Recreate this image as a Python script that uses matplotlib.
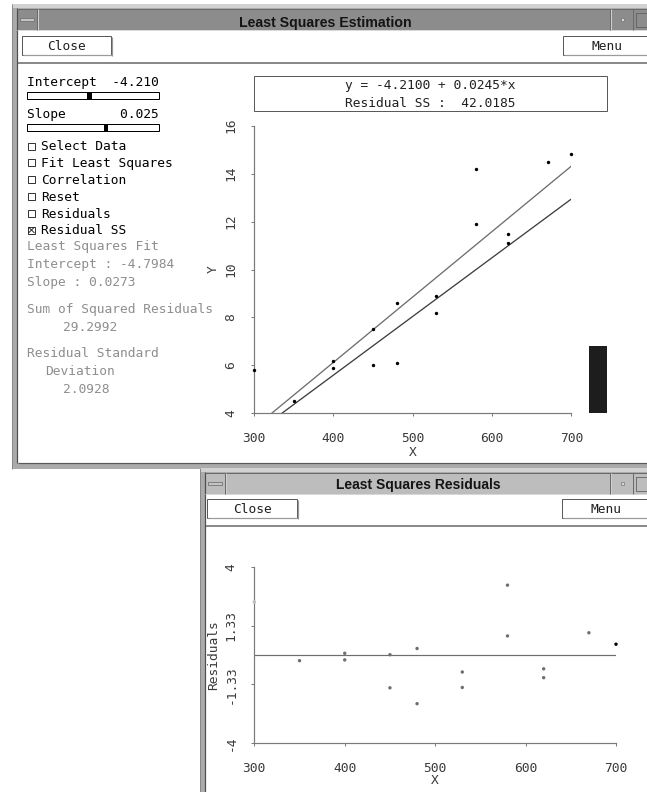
import numpy as np
import matplotlib
matplotlib.use("Agg")
import matplotlib.pyplot as plt
from matplotlib.patches import Rectangle

# ---- data -------------------------------------------------------------
x_vals = [300, 350, 400, 400, 450, 450, 480, 480, 530, 530, 580, 580, 620, 620, 670, 700]
y_vals = [5.8, 4.5, 6.2, 5.9, 7.5, 6.0, 8.6, 6.1, 8.9, 8.2, 14.2, 11.9, 11.5, 11.1, 14.5, 14.8]

user_intercept = -4.2100
user_slope = 0.0245
user_rss = 42.0185

ls_intercept = -4.7984
ls_slope = 0.0273
ls_rss = 29.2992
ls_sd = 2.0928

slider_intercept_label = "-4.210"
slider_slope_label = "0.025"

x_ticks = [300, 400, 500, 600, 700]
y_ticks = [4, 6, 8, 10, 12, 14, 16]
resid_ticks = [-4, -1.33, 1.33, 4]
resid_tick_labels = ["-4", "-1.33", "1.33", "4"]

options = ["Select Data", "Fit Least Squares", "Correlation", "Reset",
           "Residuals", "Residual SS"]
options_checked = [False, False, False, False, False, True]

# ---- figure set-up ----------------------------------------------------
plt.rcParams["font.family"] = ["DejaVu Sans Mono"]
plt.rcParams["axes.unicode_minus"] = False

W, H = 647, 792
fig = plt.figure(figsize=(W / 100, H / 100), dpi=100)
fig.patch.set_facecolor("white")

ui = fig.add_axes([0, 0, 1, 1])
ui.set_xlim(0, W)
ui.set_ylim(H, 0)
ui.axis("off")

PX = 0.72  # one pixel in points
MONO = 9.3
TITLE_FONT = ["Liberation Sans", "DejaVu Sans"]


def frac(x0, y0, x1, y1):
    return [x0 / W, 1 - y1 / H, (x1 - x0) / W, (y1 - y0) / H]


def box(x0, y0, x1, y1, fc="none", ec="none", lw=0.0, z=1):
    ui.add_patch(Rectangle((x0, y0), x1 - x0, y1 - y0, facecolor=fc,
                           edgecolor=ec, linewidth=lw, zorder=z))


def line(xs, ys, c, lw=1.0, z=2):
    ui.plot(xs, ys, color=c, lw=lw * PX, solid_capstyle="butt", zorder=z)


def label(x, y, s, color="black", ha="left", size=MONO, **kw):
    ui.text(x, y, s, color=color, ha=ha, va="baseline", fontsize=size,
            zorder=5, **kw)


def button(x0, y0, x1, y1, text):
    box(x0, y0, x1, y1, fc="white", ec="#5a5a5a", lw=1.0 * PX, z=3)
    line([x0 + 1, x1 + 1], [y1 + 0.8, y1 + 0.8], "#9a9a9a", 1.2, z=3)
    line([x1 + 0.8, x1 + 0.8], [y0 + 1, y1 + 1], "#9a9a9a", 1.2, z=3)
    label((x0 + x1) / 2, (y0 + y1) / 2 + 4.3, text, ha="center", color="#202020")


def window(x0, y0, y1, title, title_fc, title_cx, title_base, title_size):
    # frame
    box(x0, y0, W + 2, y1, fc="#ababab", z=1)
    box(x0, y0, W + 2, y0 + 4, fc="#d2d2d2", z=1)
    line([x0, x0], [y0, y1], "#8a8a8a", 1.0)
    line([x0 + 5, x0 + 5], [y0 + 4, y1 - 6], "#4e4e4e", 1.2)
    # title bar
    box(x0 + 5, y0 + 5, W + 2, y0 + 26, fc=title_fc, z=1)
    line([x0 + 5, W + 2], [y0 + 5, y0 + 5], "#6a6a6a", 1.0)
    line([x0 + 5, W + 2], [y0 + 26, y0 + 26], "#d8d8d8", 1.0)
    line([x0 + 25, x0 + 25], [y0 + 5, y0 + 26], "#6a6a6a", 1.0)
    line([x0 + 26, x0 + 26], [y0 + 5, y0 + 26], "#d0d0d0", 1.0)
    box(x0 + 8, y0 + 14, x0 + 22, y0 + 17, fc="#c4c4c4", ec="#707070",
        lw=0.8 * PX, z=2)
    line([611, 611], [y0 + 5, y0 + 26], "#d0d0d0", 1.0)
    line([610, 610], [y0 + 5, y0 + 26], "#6a6a6a", 1.0)
    box(620.5, y0 + 14, 623.5, y0 + 17, fc="#d8d8d8", ec="#6a6a6a",
        lw=0.6 * PX, z=2)
    line([633, 633], [y0 + 5, y0 + 26], "#6a6a6a", 1.0)
    box(636, y0 + 9, W + 2, y0 + 23, fc="none", ec="#5e5e5e", lw=0.8 * PX, z=2)
    ui.text(title_cx, title_base, title, ha="center", va="baseline",
            fontsize=title_size, fontweight="bold", family=TITLE_FONT,
            color="#141414", zorder=5)
    # client area
    box(x0 + 6, y0 + 27, W + 2, y1 - 6, fc="white", z=1)
    line([x0 + 6, W + 2], [y1 - 6, y1 - 6], "#5a5a5a", 1.2)


# ---- estimation window ------------------------------------------------
window(12, 4, 469, "Least Squares Estimation", "#8c8c8c", 325, 26.5, 10.2)
button(22, 36, 111, 54.5, "Close")
button(563, 36, 650, 54.5, "Menu")
line([18, W + 2], [62.5, 62.5], "#8a8a8a", 2.0)

# sliders
label(27, 86.3, "Intercept  " + slider_intercept_label)
box(27, 91.5, 159, 98.5, fc="white", ec="black", lw=1.0 * PX, z=3)
box(87, 91.5, 92, 98.5, fc="black", z=4)
label(27, 118.3, "Slope" + slider_slope_label.rjust(12))
box(27, 123.5, 159, 130.5, fc="white", ec="black", lw=1.0 * PX, z=3)
box(103.5, 123.5, 108, 130.5, fc="black", z=4)

# option check boxes
for i, (name, checked) in enumerate(zip(options, options_checked)):
    yc = 146 + i * 16.8
    box(28, yc - 3.5, 35, yc + 3.5, fc="white", ec="#202020", lw=0.9 * PX, z=3)
    if checked:
        line([28.5, 34.5], [yc - 3, yc + 3], "#202020", 0.9, z=4)
        line([28.5, 34.5], [yc + 3, yc - 3], "#202020", 0.9, z=4)
    label(41, yc + 4.3, name)

# least-squares summary
GREY = "#8e8e8e"
label(27, 250.3, "Least Squares Fit", color=GREY)
label(27, 268.3, f"Intercept : {ls_intercept:.4f}", color=GREY)
label(27, 286.3, f"Slope : {ls_slope:.4f}", color=GREY)
label(27, 313.3, "Sum of Squared Residuals", color=GREY)
label(63, 331.3, f"{ls_rss:.4f}", color=GREY)
label(27, 357.3, "Residual Standard", color=GREY)
label(45, 375.3, "Deviation", color=GREY)
label(63, 393.3, f"{ls_sd:.4f}", color=GREY)

# equation box
box(254, 76, 607, 111, fc="white", ec="#5a5a5a", lw=1.0 * PX, z=3)
label(430.5, 89.3, f"y = {user_intercept:.4f} + {user_slope:.4f}*x", color="#202020", ha="center")
label(430.5, 107.0, f"Residual SS :  {user_rss:.4f}", color="#202020", ha="center")

# residual SS indicator bar
box(589, 346, 607, 413, fc="#1d1d1d", z=3)

AX_C = "#7a7a7a"
TICK_LAB = "#3a3a3a"


def style_axes(ax):
    ax.patch.set_alpha(0)
    for s in ("top", "right"):
        ax.spines[s].set_visible(False)
    for s in ("left", "bottom"):
        ax.spines[s].set_color(AX_C)
        ax.spines[s].set_linewidth(1.2 * PX)
    ax.tick_params(direction="out", length=2.2, width=1.0 * PX, color=AX_C,
                   labelsize=MONO, labelcolor=TICK_LAB)
    ax.tick_params(axis="x", pad=11.5)
    ax.tick_params(axis="y", pad=10, labelrotation=90)
    for t in ax.get_yticklabels():
        t.set_verticalalignment("center")


# scatter plot with the two lines
ax1 = fig.add_axes(frac(254, 125.7, 571.3, 413.3))
ax1.set_xlim(300, 700)
ax1.set_ylim(4, 16)
ax1.set_xticks(x_ticks)
ax1.set_yticks(y_ticks)
style_axes(ax1)

xs = np.array(x_vals, dtype=float)
ys = np.array(y_vals, dtype=float)
line_x = np.array([min(x_ticks), max(x_ticks)], dtype=float)
ax1.plot(line_x, ls_intercept + ls_slope * line_x, color="#6c6c6c", lw=1.3 * PX)
ax1.plot(line_x, user_intercept + user_slope * line_x, color="#3c3c3c", lw=1.3 * PX)
ax1.scatter(xs, ys, s=6, color="black", linewidths=0, clip_on=False, zorder=4)
label(413, 455.5, "X", color=TICK_LAB, ha="center")
ui.text(213, 269.5, "Y", rotation=90, ha="center", va="center", fontsize=MONO,
        color=TICK_LAB, zorder=5)

# ---- residuals window -------------------------------------------------
window(200, 468, 800, "Least Squares Residuals", "#bdbdbd", 418, 489, 10.0)
button(207, 499, 297, 517.5, "Close")
button(562, 499, 650, 517.5, "Menu")
line([206, W + 2], [525.5, 525.5], "#8a8a8a", 2.0)

ax2 = fig.add_axes(frac(254.3, 566.7, 616, 743.3))
ax2.set_xlim(300, 700)
ax2.set_ylim(-4, 4)
ax2.set_xticks(x_ticks)
ax2.set_yticks(resid_ticks)
ax2.set_yticklabels(resid_tick_labels)
style_axes(ax2)

residuals = ys - (ls_intercept + ls_slope * xs)
point_colors = ["#6e6e6e"] * len(xs)
point_colors[0] = "#bdbdbd"
point_colors[-1] = "#000000"
ax2.axhline(0, color="#6e6e6e", lw=1.2 * PX)
ax2.scatter(xs, residuals, s=6, c=point_colors, linewidths=0, clip_on=False, zorder=4)
label(435, 784.5, "X", color=TICK_LAB, ha="center")
ui.text(213.5, 655, "Residuals", rotation=90, ha="center", va="center",
        fontsize=MONO, color=TICK_LAB, zorder=5)

fig.savefig("out.png", dpi=100)
